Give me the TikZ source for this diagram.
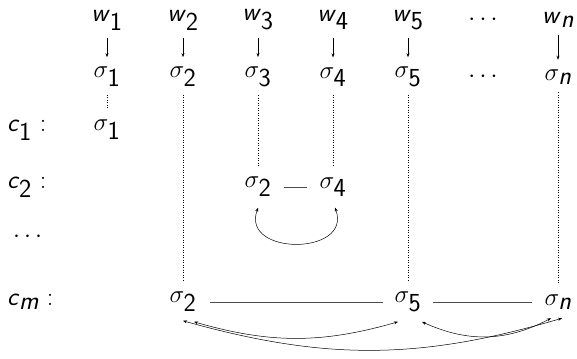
\documentclass[tikz,border=0pt]{standalone}
\usetikzlibrary{arrows.meta}
\newcommand{\slv}[1]{\textsf{\itshape #1}}
\newcommand{\sub}[1]{_{\textsf{#1}}}
\newcommand{\subi}[1]{_{\textsf{\itshape #1}}}
\begin{document}
\begin{tikzpicture}[x=1pt,y=1pt,
  font=\fontsize{26}{30}\selectfont,
  every node/.style={inner sep=0pt, outer sep=0pt},
  tip/.style={-{Stealth[length=4pt,width=3pt]}},
  both/.style={{Stealth[length=4pt,width=3pt]}-{Stealth[length=4pt,width=3pt]}},
  dotline/.style={dash pattern=on 0.9pt off 1.6pt, line width=0.6pt},
  hline/.style={line width=0.7pt, black!70},
  arc/.style={both, line width=0.5pt}]
\useasboundingbox (0,0) rectangle (577,-358);
% top row
\node (w1) at (107,-20) {\slv{w}$\sub{1}$};
\node (w2) at (183,-20) {\slv{w}$\sub{2}$};
\node (w3) at (258,-20) {\slv{w}$\sub{3}$};
\node (w4) at (333,-20) {\slv{w}$\sub{4}$};
\node (w5) at (408,-20) {\slv{w}$\sub{5}$};
\node (wd) at (483,-20) {$\cdots$};
\node (wn) at (558,-20) {\slv{w}$\subi{n}$};
% sigma row
\node (s1) at (107,-77) {$\sigma\sub{1}$};
\node (s2) at (183,-77) {$\sigma\sub{2}$};
\node (s3) at (258,-77) {$\sigma\sub{3}$};
\node (s4) at (333,-77) {$\sigma\sub{4}$};
\node (s5) at (408,-77) {$\sigma\sub{5}$};
\node (sd) at (483,-77) {$\cdots$};
\node (sn) at (558,-77) {$\sigma\subi{n}$};
\foreach \i in {1,2,3,4,5,n}{
  \draw[tip, line width=0.5pt, shorten <=8pt, shorten >=10pt] (w\i.south) -- (s\i.north);
}
% labels
\node[anchor=west] (lc1) at (7,-130) {\slv{c}$\sub{1}$ :};
\node[anchor=west] (lc2) at (7,-187) {\slv{c}$\sub{2}$ :};
\node[anchor=west] (ldots) at (13,-237) {$\cdots$};
\node[anchor=west] (lcm) at (7,-302) {\slv{c}$\subi{m}$ :};
% c1
\node (a1) at (107,-130) {$\sigma\sub{1}$};
% c2
\node (b2) at (258,-187) {$\sigma\sub{2}$};
\node (b4) at (333,-187) {$\sigma\sub{4}$};
% cm
\node (m2) at (183,-302) {$\sigma\sub{2}$};
\node (m5) at (408,-302) {$\sigma\sub{5}$};
\node (mn) at (558,-302) {$\sigma\subi{n}$};
% dotted
\draw[dotline, shorten <=8pt, shorten >=11pt] (s1.south) -- (a1.north);
\draw[dotline, shorten <=8pt, shorten >=12pt] (s2.south) -- (m2.north);
\draw[dotline, shorten <=8pt, shorten >=12pt] (s3.south) -- (b2.north);
\draw[dotline, shorten <=8pt, shorten >=12pt] (s4.south) -- (b4.north);
\draw[dotline, shorten <=8pt, shorten >=12pt] (s5.south) -- (m5.north);
\draw[dotline, shorten <=8pt, shorten >=12pt] (sn.south) -- (mn.north);
% horizontal
\draw[hline, shorten <=13pt, shorten >=13pt] (b2.east) -- (b4.west);
\draw[hline, shorten <=14pt, shorten >=12pt] (m2.east) -- (m5.west);
\draw[hline, shorten <=12pt, shorten >=13pt] (m5.east) -- (mn.west);
% arcs
\draw[arc] ([yshift=-11pt]b2.south) to[out=-110,in=-70,looseness=1.7] ([yshift=-11pt,xshift=2pt]b4.south);
\draw[arc] ([xshift=11pt,yshift=-10pt]m2.south) to[bend right=16] ([xshift=-10pt,yshift=-10pt]m5.south);
\draw[arc] ([xshift=14pt,yshift=-10pt]m5.south) to[bend right=26] ([xshift=-7pt,yshift=-9pt]mn.south);
\draw[arc] ([xshift=0pt,yshift=-9pt]m2.south) to[bend right=16] ([xshift=4pt,yshift=-9pt]mn.south);
\end{tikzpicture}
\end{document}
